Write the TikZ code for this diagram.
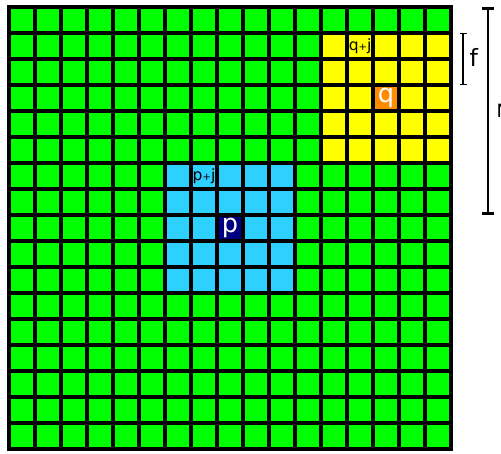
\documentclass[tikz,border=0pt]{standalone}
\usepackage{fontspec}
\setmainfont{DejaVu Sans}
\usetikzlibrary{arrows.meta}
\definecolor{cellgreen}{RGB}{0,255,0}
\definecolor{cellyellow}{RGB}{255,255,0}
\definecolor{cellblue}{RGB}{45,208,255}
\definecolor{pnavy}{RGB}{0,0,128}
\definecolor{qorange}{RGB}{255,140,0}

\begin{document}
\begin{tikzpicture}[x=0.5cm,y=0.5cm,
    gridline/.style={line width=2pt},
    bigtag/.style={text=white, inner sep=0pt, font=\fontsize{14}{14}\selectfont},
    smalltag/.style={inner sep=0pt, font=\fontsize{8.5}{9}\selectfont}]
  \useasboundingbox (-0.346,-0.154) rectangle (18.92,17.27);
  \fill[white] (-0.346,-0.154) rectangle (18.92,17.27);
  % shadow and cells
  \fill[black!30] (0.08,-0.08) rectangle (17.08,16.92);
  \fill[cellgreen] (0,0) rectangle (17,17);
  \fill[cellyellow] (12,11) rectangle (17,16);
  \fill[cellblue] (6,6) rectangle (11,11);
  \fill[qorange] (14,13) rectangle (15,14);
  \fill[pnavy] (8,8) rectangle (9,9);
  \foreach \i in {1,...,16} {
    \draw[gridline] (\i,0) -- (\i,17);
    \draw[gridline] (0,\i) -- (17,\i);
  }
  \draw[gridline] (0,0) rectangle (17,17);
  % labels
  \node[bigtag] (q) at (14.5,13.5) {q};
  \node[bigtag] (p) at (8.5,8.5) {p};
  \node[smalltag] (qj) at (13.5,15.5) {q{\fontsize{5.5}{6}\selectfont+}j};
  \node[smalltag] (pj) at (7.5,10.5) {p{\fontsize{5.5}{6}\selectfont+}j};
  % brackets
  \coordinate (ftop) at (17.46,16);
  \coordinate (fbot) at (17.46,14);
  \draw[line width=0.8pt, {Bar[width=3.8pt]}-{Bar[width=3.8pt]}] (ftop) -- (fbot);
  \node[anchor=west, inner sep=0pt, font=\fontsize{13}{13}\selectfont] (f) at (17.70,15.06) {f};
  \coordinate (ntop) at (18.42,17);
  \coordinate (nbot) at (18.42,9);
  \draw[line width=1.6pt, {Bar[width=6.5pt]}-{Bar[width=6.5pt]}] (ntop) -- (nbot);
  \node[anchor=west, inner sep=0pt, font=\fontsize{10}{10}\selectfont] (n) at (18.74,13) {N};
\end{tikzpicture}
\end{document}
